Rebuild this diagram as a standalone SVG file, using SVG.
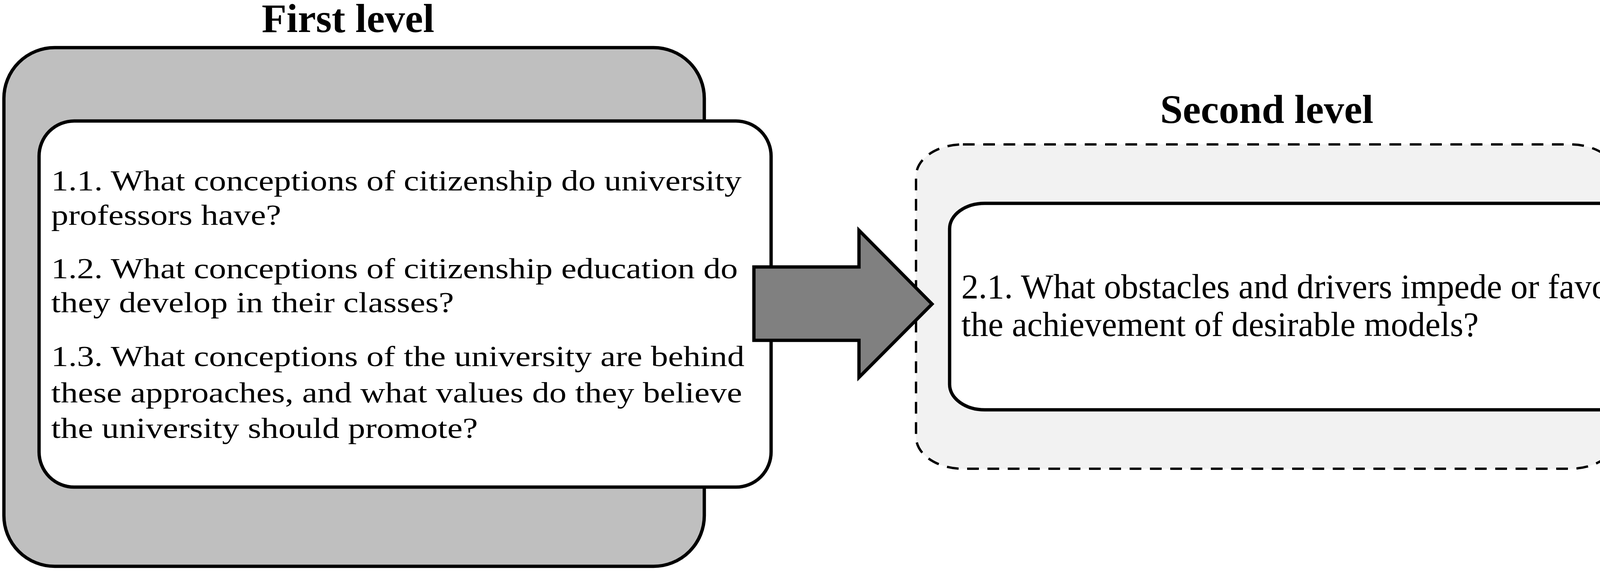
<svg xmlns="http://www.w3.org/2000/svg" width="4317" height="1463" viewBox="0 0 4317 1463">
<style>
.title{font-family:"Liberation Serif","Times New Roman",serif;font-weight:bold;font-size:104px;fill:#000;text-anchor:middle}
.body{font-family:"Liberation Serif","Times New Roman",serif;font-size:88px;fill:#000}
.box{stroke:#000;stroke-width:8.5}
</style>
<rect width="4317" height="1463" fill="#fff"/>
<g id="first-level">
  <text class="title" x="891" y="82">First level</text>
  <rect class="box" x="10" y="122" width="1793" height="1329" rx="130" ry="130" fill="#bfbfbf"/>
</g>
<g id="first-level-questions">
  <rect class="box" x="100" y="310" width="1874" height="938" rx="90" ry="90" fill="#fff"/>
  <text class="body" transform="translate(131,488) scale(1,0.85)">1.1. What conceptions of citizenship do university</text>
  <text class="body" transform="translate(131,576) scale(1,0.85)">professors have?</text>
  <text class="body" transform="translate(131,713) scale(1,0.85)">1.2. What conceptions of citizenship education do</text>
  <text class="body" transform="translate(131,800) scale(1,0.85)">they develop in their classes?</text>
  <text class="body" transform="translate(131,938) scale(1,0.85)">1.3. What conceptions of the university are behind</text>
  <text class="body" transform="translate(131,1031) scale(1,0.85)">these approaches, and what values do they believe</text>
  <text class="body" transform="translate(131,1122) scale(1,0.85)">the university should promote?</text>
</g>
<g id="second-level">
  <text class="title" x="3243" y="315">Second level</text>
  <rect x="2345" y="370" width="1795" height="831" rx="120" ry="82" fill="#f2f2f2" stroke="#000" stroke-width="6" stroke-dasharray="30 22"/>
</g>
<g id="second-level-questions">
  <rect class="box" x="2431" y="521" width="1877" height="529" rx="90" ry="65" fill="#fff"/>
  <text class="body" x="2461" y="764">2.1. What obstacles and drivers impede or favor</text>
  <text class="body" x="2461" y="861">the achievement of desirable models?</text>
</g>
<g id="connectors">
  <polygon class="box" points="1930,684 2199,684 2199,590 2386,779 2199,967 2199,872 1930,872" fill="#808080" stroke-linejoin="miter"/>
</g>
</svg>
